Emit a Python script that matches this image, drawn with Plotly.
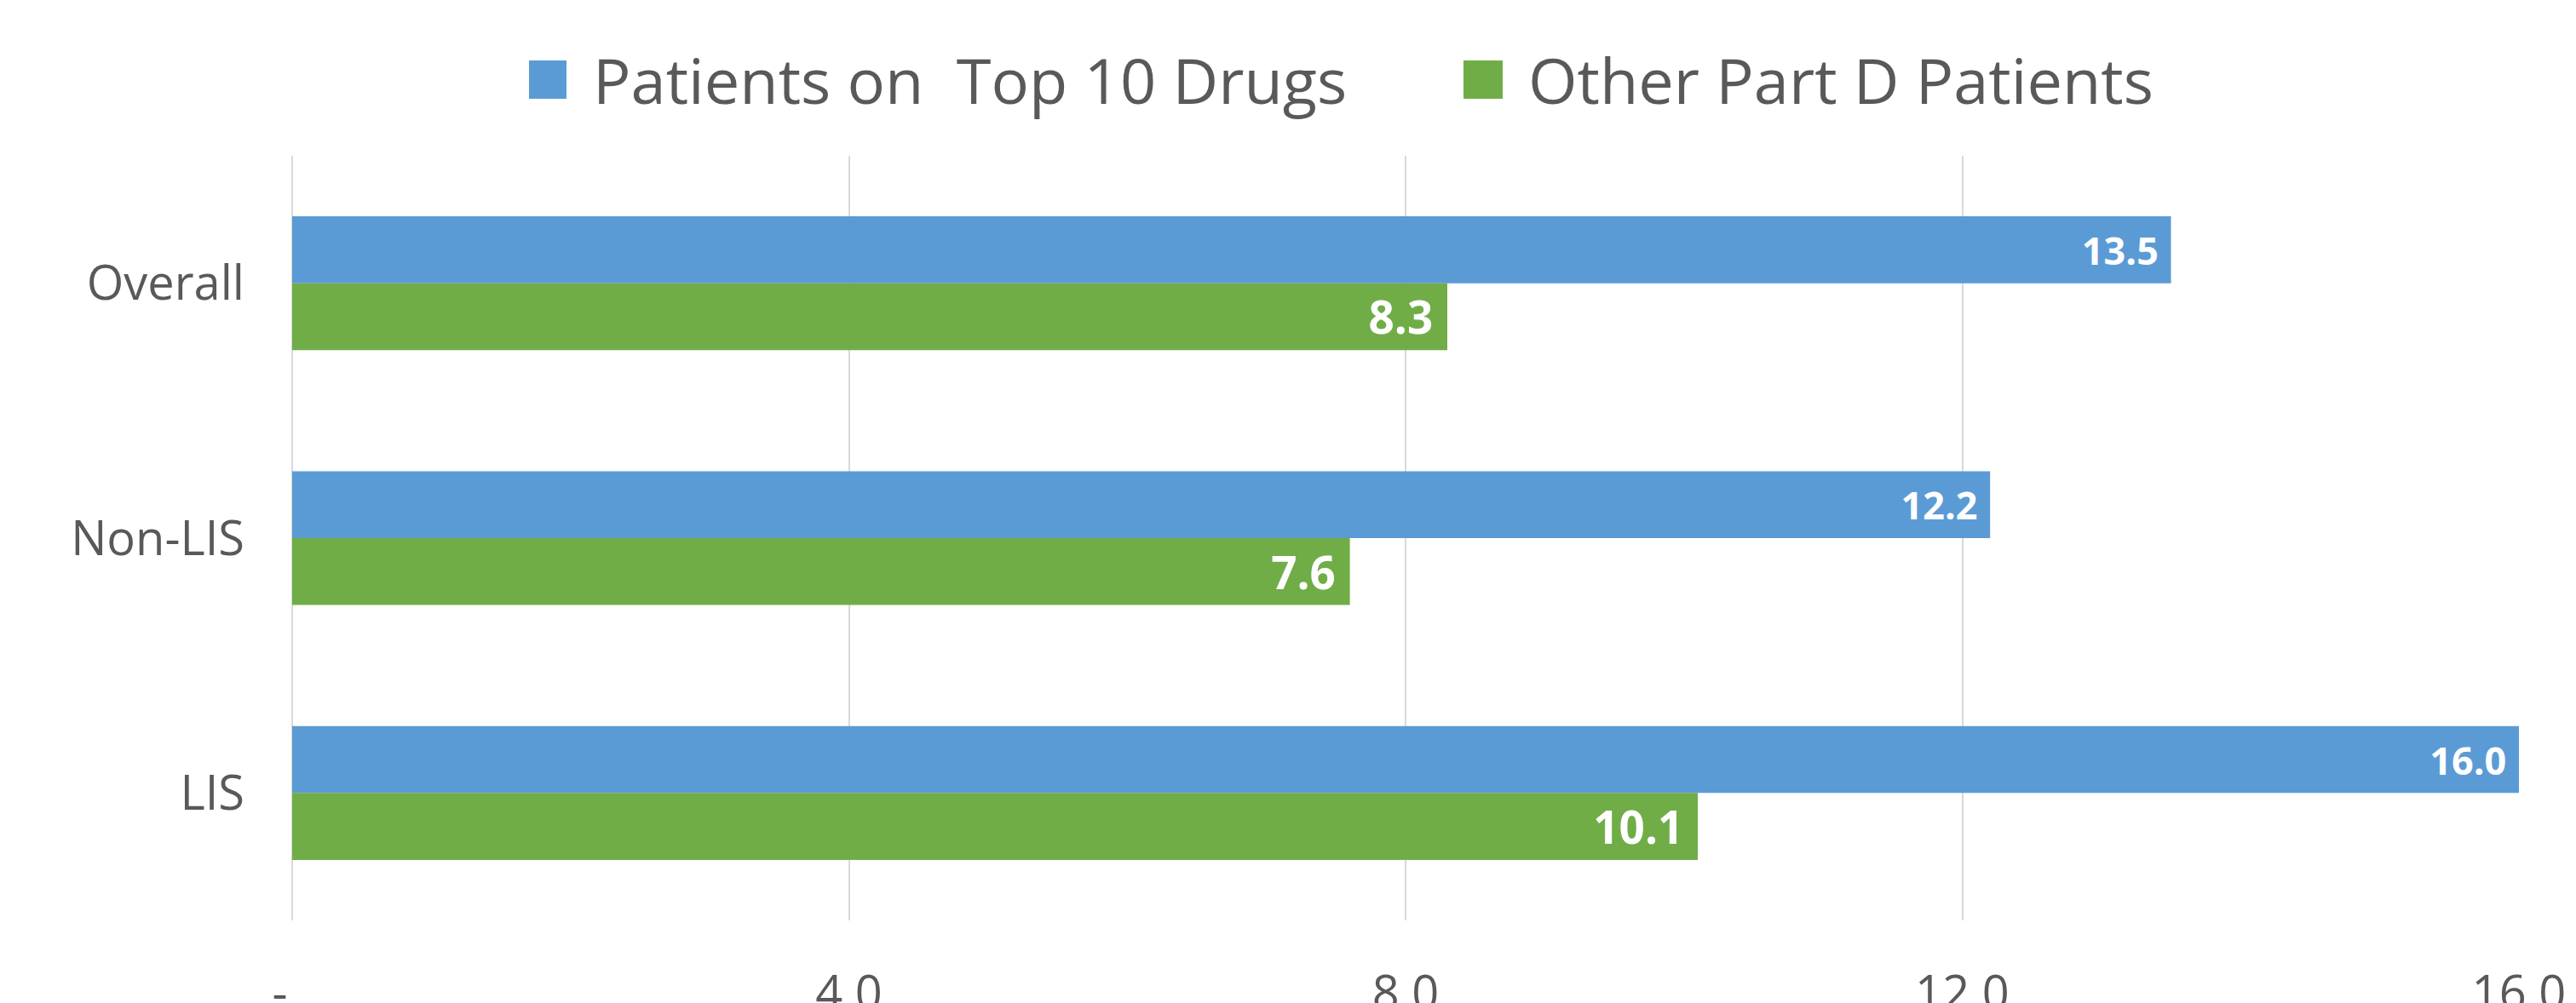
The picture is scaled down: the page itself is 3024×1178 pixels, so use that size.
import plotly.graph_objects as go

# ---- data ----
categories = ["Overall", "Non-LIS", "LIS"]
top10_values = [13.5, 12.2, 16.0]
other_values = [8.3, 7.6, 10.1]
series_names = ["Patients on\u00a0 Top 10 Drugs", "Other Part D Patients"]
x_tickvals = [0, 4, 8, 12, 16]
x_ticktext = ["-\u00a0\u00a0", "4.0", "8.0", "12.0", "16.0"]

# ---- styles ----
BLUE = "#5B9BD5"
GREEN = "#70AD47"
TXT = "#595959"
GRID = "#D9D9D9"
FONT = "Open Sans"

W, H = 3024, 1178
ML, MR, MT, MB = 343, 67, 183, 97
PW = W - ML - MR
PH = H - MT - MB


def px_to_paper_x(px):
    return (px - ML) / PW


def px_to_paper_y(py):
    return (H - MB - py) / PH


fig = go.Figure()
fig.add_trace(go.Bar(
    y=categories, x=top10_values, orientation="h", name=series_names[0],
    marker=dict(color=BLUE, line=dict(width=0)),
    texttemplate="%{x:.1f}\u00a0", textposition="inside", insidetextanchor="end",
    constraintext="none",
    textfont=dict(family=FONT, size=45, color="white", weight="bold"),
    showlegend=False,
))
fig.add_trace(go.Bar(
    y=categories, x=other_values, orientation="h", name=series_names[1],
    marker=dict(color=GREEN, line=dict(width=0)),
    texttemplate="%{x:.1f}\u00a0", textposition="inside", insidetextanchor="end",
    constraintext="none",
    textfont=dict(family=FONT, size=53, color="white", weight="bold"),
    showlegend=False,
))

fig.update_layout(
    width=W, height=H,
    margin=dict(l=ML, r=MR, t=MT, b=MB, pad=0, autoexpand=False),
    paper_bgcolor="white", plot_bgcolor="white",
    barmode="group", bargap=0.475, bargroupgap=0,
    font=dict(family=FONT, color=TXT),
    uniformtext=dict(mode=False),
)
fig.update_xaxes(
    range=[0, 16], tickvals=x_tickvals, ticktext=x_ticktext,
    showgrid=True, gridcolor=GRID, gridwidth=2,
    zeroline=True, zerolinecolor=GRID, zerolinewidth=2,
    showline=False, ticks="", ticklabelstandoff=48, automargin=False,
    tickfont=dict(family=FONT, size=56, color=TXT),
)
fig.update_yaxes(
    categoryorder="array", categoryarray=categories, autorange="reversed",
    showgrid=False, zeroline=False, showline=False, ticks="",
    ticklabelstandoff=55, automargin=False,
    tickfont=dict(family=FONT, size=56, color=TXT),
)

# manual legend (large square swatches like the reference)
legend_items = [
    (series_names[0], BLUE, 621, 665, 694),
    (series_names[1], GREEN, 1718, 1764, 1792),
]
for name, color, x0, x1, xt in legend_items:
    fig.add_shape(type="rect", xref="paper", yref="paper",
                  x0=px_to_paper_x(x0), x1=px_to_paper_x(x1),
                  y0=px_to_paper_y(116), y1=px_to_paper_y(71),
                  fillcolor=color, line=dict(width=0))
    fig.add_annotation(xref="paper", yref="paper",
                       x=px_to_paper_x(xt), y=px_to_paper_y(93),
                       xanchor="left", yanchor="middle", showarrow=False,
                       text=name, font=dict(family=FONT, size=74, color=TXT))

fig.write_html("out.html")
